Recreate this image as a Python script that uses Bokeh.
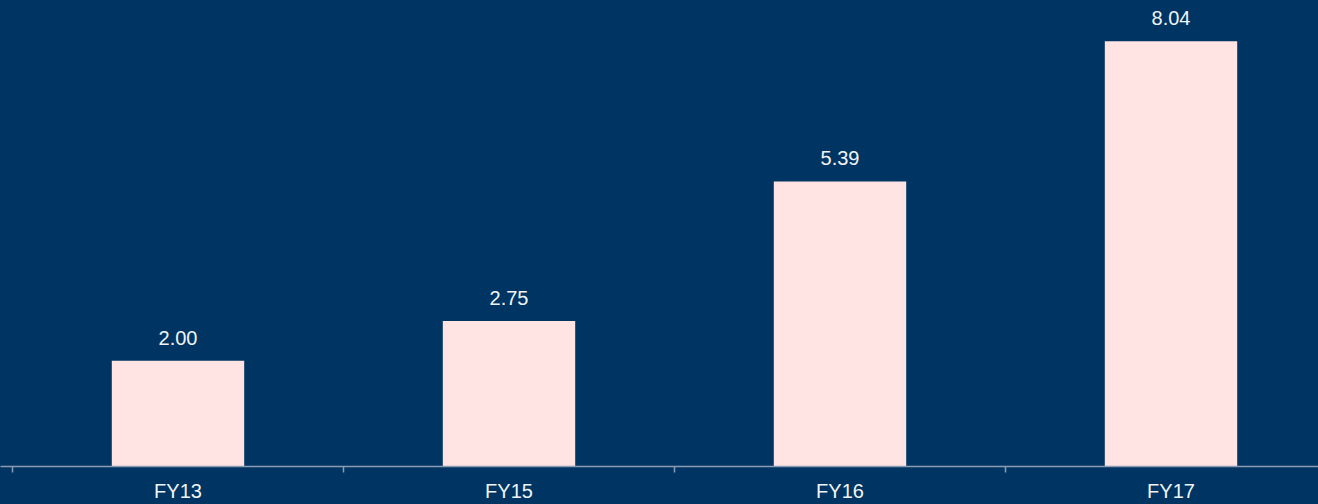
from bokeh.plotting import figure
from bokeh.models import ColumnDataSource, Range1d, FixedTicker, GlobalInlineStyleSheet
from bokeh.core.properties import value
from bokeh.embed import file_html
from bokeh.resources import INLINE

categories = ["FY13", "FY15", "FY16", "FY17"]
values = [2.00, 2.75, 5.39, 8.04]
value_labels = ["2.00", "2.75", "5.39", "8.04"]

BG = "#003462"
BAR = "#FFE4E3"
FONT = "Liberation Sans"

xpos = [i + 0.5 for i in range(len(categories))]
src = ColumnDataSource(dict(x=xpos, top=values, label=value_labels))

p = figure(width=1318, height=504, output_backend="svg", toolbar_location=None,
           x_range=Range1d(-0.03625, 3.9456), y_range=Range1d(0, 8.81),
           y_axis_location=None, min_border_left=0, min_border_right=0,
           min_border_top=0, min_border_bottom=0)
p.background_fill_color = BG
p.border_fill_color = BG
p.outline_line_color = None
p.xgrid.visible = False
p.ygrid.visible = False

p.vbar(x="x", top="top", width=0.4, bottom=0, source=src,
       fill_color=BAR, line_color=None)
p.text(x="x", y="top", text="label", source=src, text_align="center",
       text_baseline="alphabetic", y_offset=-23, text_color="#F0F4F8",
       text_font=value(FONT), text_font_size="20px")

ax = p.xaxis[0]
ax.ticker = FixedTicker(ticks=xpos, minor_ticks=[0, 1, 2, 3])
ax.major_label_overrides = {x: c for x, c in zip(xpos, categories)}
ax.major_tick_line_color = None
ax.major_tick_out = 0
ax.major_tick_in = 0
ax.minor_tick_out = 6
ax.minor_tick_in = 0
ax.minor_tick_line_color = "#8A9BB3"
ax.minor_tick_line_width = 1.5
ax.axis_line_color = "#8A9BB3"
ax.axis_line_width = 1.5
ax.major_label_standoff = 7
ax.major_label_text_font = FONT
ax.major_label_text_font_size = "20px"
ax.major_label_text_color = "#F0F4F8"

p.stylesheets = [GlobalInlineStyleSheet(css="html, body { background-color: #003462; }")]

open("out.html", "w").write(file_html(p, INLINE))
